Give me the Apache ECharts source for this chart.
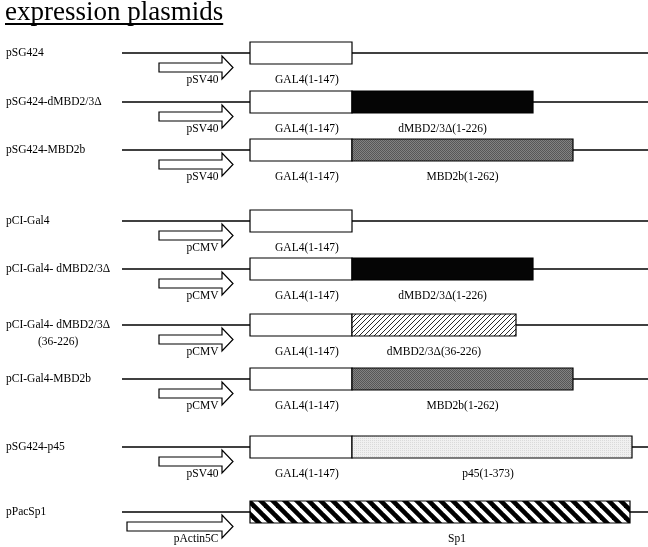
<!DOCTYPE html>
<html><head><meta charset="utf-8">
<script src="https://cdn.jsdelivr.net/npm/echarts@6/dist/echarts.min.js"></script>
<style>html,body{margin:0;padding:0;background:#fff}#c{width:648px;height:547px}</style>
</head><body><div id="c"></div>
<script>
// ---------------- data ----------------
const titleText = 'expression plasmids';
const plasmids = ['pSG424', 'pSG424-dMBD2/3\u0394', 'pSG424-MBD2b', 'pCI-Gal4', 'pCI-Gal4- dMBD2/3\u0394',
  'pCI-Gal4- dMBD2/3\u0394\n(36-226)', 'pCI-Gal4-MBD2b', 'pSG424-p45', 'pPacSp1'];
const rowY = [53, 102, 150, 221, 269, 325, 379, 447, 512];          // track position (schematic units)
const promoters = ['pSV40', 'pSV40', 'pSV40', 'pCMV', 'pCMV', 'pCMV', 'pCMV', 'pSV40', 'pActin5C'];
const promoterStart = [159, 159, 159, 159, 159, 159, 159, 159, 127];
const promoterEnd = [233, 233, 233, 233, 233, 233, 233, 233, 233];
const backboneStart = [122, 122, 122, 122, 122, 122, 122, 122, 122];
const backboneEnd = [648, 648, 648, 648, 648, 648, 648, 648, 648];
// [row, start, end, label, kind]
const segments = [
  [0, 250, 352, 'GAL4(1-147)', 'gal4'],
  [1, 250, 352, 'GAL4(1-147)', 'gal4'],
  [1, 352, 533, 'dMBD2/3\u0394(1-226)', 'dmbd'],
  [2, 250, 352, 'GAL4(1-147)', 'gal4'],
  [2, 352, 573, 'MBD2b(1-262)', 'mbd2b'],
  [3, 250, 352, 'GAL4(1-147)', 'gal4'],
  [4, 250, 352, 'GAL4(1-147)', 'gal4'],
  [4, 352, 533, 'dMBD2/3\u0394(1-226)', 'dmbd'],
  [5, 250, 352, 'GAL4(1-147)', 'gal4'],
  [5, 352, 516, 'dMBD2/3\u0394(36-226)', 'dmbdTrunc'],
  [6, 250, 352, 'GAL4(1-147)', 'gal4'],
  [6, 352, 573, 'MBD2b(1-262)', 'mbd2b'],
  [7, 250, 352, 'GAL4(1-147)', 'gal4'],
  [7, 352, 632, 'p45(1-373)', 'p45'],
  [8, 250, 630, 'Sp1', 'sp1']
];

// ---------------- styles ----------------
const FONT = '"Liberation Serif", "Times New Roman", serif';
const LABEL_FONT = '11.5px ' + FONT;
const TITLE_FONT = '27px ' + FONT;
const labelShift = { gal4: 6, sp1: 17, p45: -4 };

function tile(size, draw) {
  const c = document.createElement('canvas');
  c.width = size; c.height = size;
  const ctx = c.getContext('2d');
  draw(ctx, size);
  return { image: c, repeat: 'repeat' };
}
const fills = {
  gal4: '#ffffff',
  dmbd: '#050505',
  mbd2b: tile(2, (ctx) => {
    ctx.fillStyle = '#828282'; ctx.fillRect(0, 0, 2, 2);
    ctx.fillStyle = '#575757'; ctx.fillRect(0, 0, 1, 1); ctx.fillRect(1, 1, 1, 1);
  }),
  p45: tile(2, (ctx) => {
    ctx.fillStyle = '#f0f0f0'; ctx.fillRect(0, 0, 2, 2);
    ctx.fillStyle = '#dadada'; ctx.fillRect(0, 0, 1, 1);
  }),
  dmbdTrunc: tile(5, (ctx, s) => {
    ctx.fillStyle = '#fff'; ctx.fillRect(0, 0, s, s);
    ctx.strokeStyle = '#111'; ctx.lineWidth = 0.9;
    for (let k = 0; k <= 2; k++) {
      ctx.beginPath(); ctx.moveTo(k * s - s - 1, s + 1); ctx.lineTo(k * s + 1, -1); ctx.stroke();
    }
  }),
  sp1: tile(12, (ctx, s) => {
    ctx.fillStyle = '#fff'; ctx.fillRect(0, 0, s, s);
    ctx.strokeStyle = '#000'; ctx.lineWidth = 4.6;
    for (let k = -1; k <= 1; k++) {
      ctx.beginPath(); ctx.moveTo(k * s - 2, -2); ctx.lineTo(k * s + s + 2, s + 2); ctx.stroke();
    }
  })
};

function measure(text, font) {
  const ctx = document.createElement('canvas').getContext('2d');
  ctx.font = font;
  return ctx.measureText(text).width;
}

// ---------------- chart ----------------
const chart = echarts.init(document.getElementById('c'), null, { renderer: 'canvas' });

const rowData = plasmids.map((n, i) => [i, rowY[i], backboneStart[i], backboneEnd[i], promoterStart[i], promoterEnd[i]]);
const segData = segments.map(s => [s[1], s[2], rowY[s[0]]]);

function renderRow(params, api) {
  const i = api.value(0);
  const y = api.coord([0, api.value(1)])[1];
  const xb0 = api.coord([api.value(2), 0])[0];
  const xb1 = api.coord([api.value(3), 0])[0];
  const xp0 = api.coord([api.value(4), 0])[0];
  const xp1 = api.coord([api.value(5), 0])[0];
  const cy = y + 14.5;
  const hb = xp1 - 11;
  const children = [
    { type: 'line', shape: { x1: xb0, y1: y, x2: xb1, y2: y }, style: { stroke: '#000', lineWidth: 1.3 } },
    { type: 'polygon', shape: { points: [[xp0, cy - 4.5], [hb, cy - 4.5], [hb, cy - 11.5], [xp1, cy], [hb, cy + 11.5], [hb, cy + 4.5], [xp0, cy + 4.5]] },
      style: { fill: '#fff', stroke: '#000', lineWidth: 1.2 } },
    { type: 'text', style: { text: promoters[i], x: xp1 - 14.5, y: y + 26.5, align: 'right', verticalAlign: 'middle', font: LABEL_FONT, fill: '#000' } }
  ];
  const lines = plasmids[i].split('\n');
  if (lines.length === 1) {
    children.push({ type: 'text', style: { text: lines[0], x: 6, y: y, align: 'left', verticalAlign: 'middle', font: LABEL_FONT, fill: '#000' } });
  } else {
    const w = measure(lines[0], LABEL_FONT);
    lines.forEach((t, k) => {
      children.push({ type: 'text', style: { text: t, x: 6 + w / 2, y: y + k * 17, align: 'center', verticalAlign: 'middle', font: LABEL_FONT, fill: '#000' } });
    });
  }
  return { type: 'group', children };
}

function renderSeg(params, api) {
  const s = segments[params.dataIndex];
  const x0 = api.coord([api.value(0), 0])[0];
  const x1 = api.coord([api.value(1), 0])[0];
  const y = api.coord([0, api.value(2)])[1];
  return {
    type: 'group',
    children: [
      { type: 'rect', shape: { x: x0, y: y - 11, width: x1 - x0, height: 22 },
        style: { fill: fills[s[4]], stroke: '#000', lineWidth: 1.2 } },
      { type: 'text', style: { text: s[3], x: (x0 + x1) / 2 + (labelShift[s[4]] || 0), y: y + 26.5,
        align: 'center', verticalAlign: 'middle', font: LABEL_FONT, fill: '#000' } }
    ]
  };
}

const titleW = measure(titleText, TITLE_FONT);

chart.setOption({
  animation: false,
  backgroundColor: '#fff',
  grid: { left: 0, right: 0, top: 0, bottom: 0 },
  xAxis: { type: 'value', min: 0, max: 648, show: false },
  yAxis: { type: 'value', min: 0, max: 547, inverse: true, show: false },
  graphic: [
    { type: 'text', x: 5, y: 13, style: { text: titleText, font: TITLE_FONT, fill: '#000', verticalAlign: 'middle' } },
    { type: 'line', shape: { x1: 5, y1: 24, x2: 5 + titleW, y2: 24 }, style: { stroke: '#000', lineWidth: 1.8 } }
  ],
  series: [
    { type: 'custom', renderItem: renderRow, data: rowData, z: 1, silent: true },
    { type: 'custom', renderItem: renderSeg, data: segData, z: 2, silent: true }
  ]
});
</script>
</body></html>
